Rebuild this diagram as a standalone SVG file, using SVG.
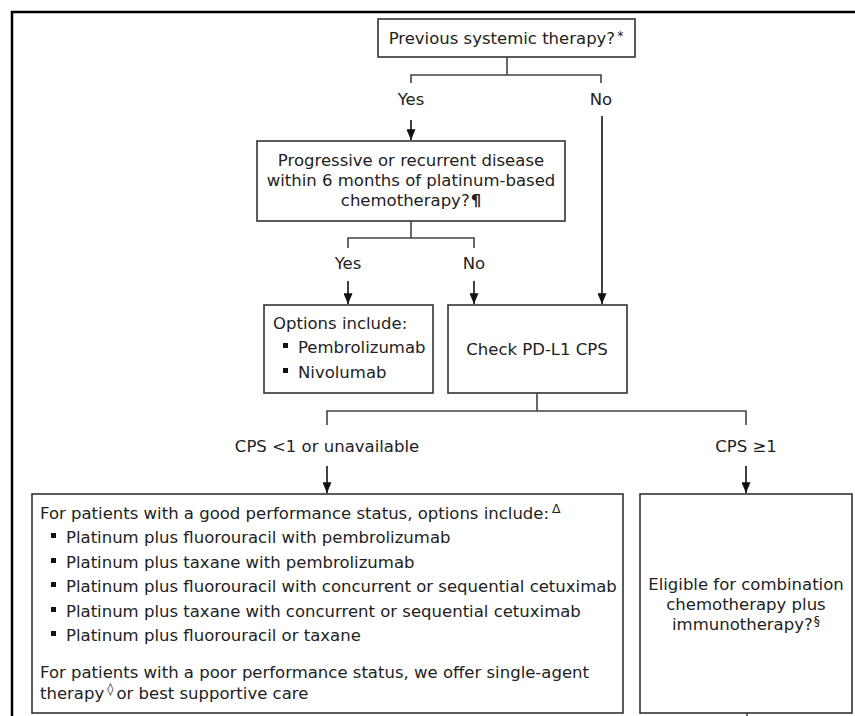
<svg xmlns="http://www.w3.org/2000/svg" width="855" height="716" viewBox="0 0 855 716">
<defs>
<marker id="ah" viewBox="0 0 12 10" refX="12" refY="5" markerWidth="12" markerHeight="9" markerUnits="userSpaceOnUse" orient="auto">
<path d="M0,0 L12,5 L0,10 Z" fill="#111"/>
</marker>
</defs>
<style>
.t{font-family:"DejaVu Sans","Verdana",sans-serif;font-size:16.5px;fill:#222}
.c{text-anchor:middle}
.sup{font-size:12.5px}
.box{fill:#fff;stroke:#333;stroke-width:1.6}
.ln{fill:none;stroke:#444;stroke-width:1.6}
.ar{fill:none;stroke:#111;stroke-width:1.6;marker-end:url(#ah)}
.b{fill:#111}
</style>
<rect width="855" height="716" fill="#fff"/>
<path d="M12,716 V12 H855" fill="none" stroke="#000" stroke-width="2.5"/>
<g id="connectors">
<path class="ln" d="M507,57 V75 M411,83 V75 H601 V83"/>
<path class="ar" d="M411,120 V140"/>
<path class="ar" d="M602,116 V304"/>
<path class="ln" d="M411,221 V238 M348,248 V238 H474 V248"/>
<path class="ar" d="M348,281 V304"/>
<path class="ar" d="M474,281 V304"/>
<path class="ln" d="M537,393 V411 M327,425 V411 H746 V425"/>
<path class="ar" d="M327,466 V493"/>
<path class="ar" d="M746,466 V493"/>
<path class="ln" d="M747,713 V716"/>
<text class="t c" x="411" y="105">Yes</text>
<text class="t c" x="601" y="105">No</text>
<text class="t c" x="348" y="269">Yes</text>
<text class="t c" x="474" y="269">No</text>
<text class="t c" x="327" y="452">CPS &lt;1 or unavailable</text>
<text class="t c" x="746" y="452">CPS ≥1</text>
</g>
<g id="n1">
<rect class="box" x="378" y="19" width="257" height="38"/>
<text class="t c" x="506" y="44">Previous systemic therapy?<tspan class="sup" dx="2" dy="-4">*</tspan></text>
</g>
<g id="n2">
<rect class="box" x="257" y="141" width="308" height="80"/>
<text class="t c" x="411" y="166">Progressive or recurrent disease</text>
<text class="t c" x="411" y="186">within 6 months of platinum-based</text>
<text class="t c" x="411" y="206">chemotherapy?<tspan font-weight="bold" dx="1">¶</tspan></text>
</g>
<g id="n3">
<rect class="box" x="264" y="305" width="169" height="88"/>
<text class="t" x="273" y="329">Options include:</text>
<rect class="b" x="283" y="343" width="5" height="5"/>
<text class="t" x="298" y="353">Pembrolizumab</text>
<rect class="b" x="283" y="368" width="5" height="5"/>
<text class="t" x="298" y="378">Nivolumab</text>
</g>
<g id="n4">
<rect class="box" x="448" y="305" width="179" height="88"/>
<text class="t c" x="537" y="355">Check PD-L1 CPS</text>
</g>
<g id="n5">
<rect class="box" x="32" y="494" width="591" height="219"/>
<text class="t" x="40" y="519">For patients with a good performance status, options include:<tspan class="sup" dx="3" dy="-6">Δ</tspan></text>
<rect class="b" x="51" y="533" width="5" height="5"/>
<text class="t" x="66" y="543">Platinum plus fluorouracil with pembrolizumab</text>
<rect class="b" x="51" y="558" width="5" height="5"/>
<text class="t" x="66" y="568">Platinum plus taxane with pembrolizumab</text>
<rect class="b" x="51" y="582" width="5" height="5"/>
<text class="t" x="66" y="592">Platinum plus fluorouracil with concurrent or sequential cetuximab</text>
<rect class="b" x="51" y="607" width="5" height="5"/>
<text class="t" x="66" y="617">Platinum plus taxane with concurrent or sequential cetuximab</text>
<rect class="b" x="51" y="631" width="5" height="5"/>
<text class="t" x="66" y="641">Platinum plus fluorouracil or taxane</text>
<text class="t" x="40" y="678">For patients with a poor performance status, we offer single-agent</text>
<text class="t" x="40" y="699">therapy<tspan class="sup" dx="3" dy="-6">◊</tspan><tspan dx="3" dy="6">or best supportive care</tspan></text>
</g>
<g id="n6">
<rect class="box" x="640" y="494" width="212" height="219"/>
<text class="t c" x="746" y="590">Eligible for combination</text>
<text class="t c" x="746" y="610">chemotherapy plus</text>
<text class="t c" x="746" y="630">immunotherapy?<tspan class="sup" dx="1" dy="-5">§</tspan></text>
</g>
</svg>
